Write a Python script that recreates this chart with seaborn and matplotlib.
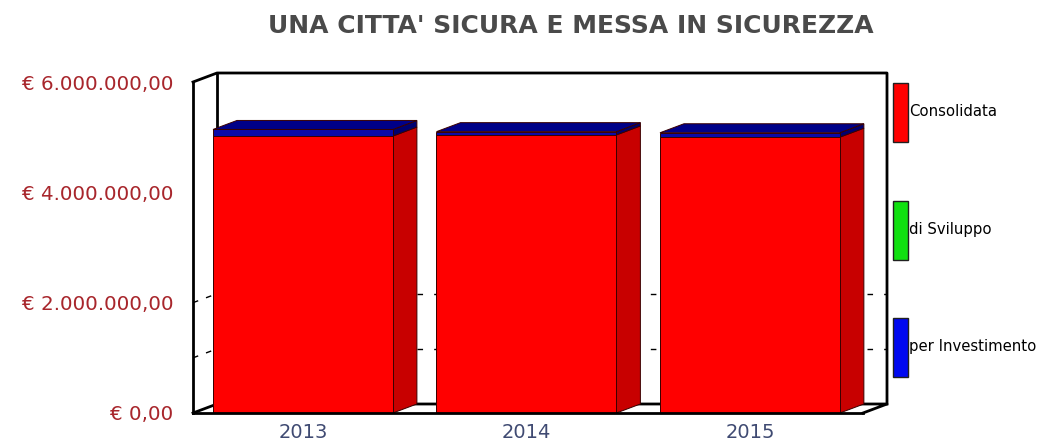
import matplotlib
matplotlib.use("Agg")
import matplotlib.pyplot as plt
from matplotlib.patches import Patch, Polygon
import pandas as pd
import seaborn as sns

# ---- data -------------------------------------------------------------
years = ["2013", "2014", "2015"]
consolidata = [5020000, 5040000, 5000000]
sviluppo = [0, 0, 0]
investimento = [120000, 60000, 80000]
series_names = ["Consolidata", "di Sviluppo", "per Investimento"]
y_ticks = [0, 2000000, 4000000, 6000000]
y_tick_labels = ["€ 0,00", "€ 2.000.000,00", "€ 4.000.000,00", "€ 6.000.000,00"]
grid_values = [1000000, 2000000]
title = "UNA CITTA' SICURA E MESSA IN SICUREZZA"

# ---- style ------------------------------------------------------------
sns.set_theme(style="white")
plt.rcParams["font.family"] = ["DejaVu Sans"]

RED, RED_SIDE = "#ff0000", "#c80000"
GREEN = "#10e010"
BLUE_FRONT, BLUE_TOP, BLUE_SIDE = "#0a0aa8", "#000088", "#000070"
LEGEND_BLUE = "#0008f0"
EDGE = "#3a0000"

W, H = 1046, 446
fig = plt.figure(figsize=(W / 100, H / 100), dpi=100)
fig.patch.set_facecolor("white")

# front plane of the plotting box, in pixels
px_left, px_right, px_bottom, px_top = 193, 863, 413, 82
ax = fig.add_axes([px_left / W, 1 - px_bottom / H,
                   (px_right - px_left) / W, (px_bottom - px_top) / H])
ax.set_facecolor("white")

df = pd.DataFrame({
    "anno": years,
    "Consolidata": consolidata,
    "di Sviluppo": sviluppo,
    "per Investimento": investimento,
})
df["lvl1"] = df["Consolidata"]
df["lvl2"] = df["lvl1"] + df["di Sviluppo"]
df["lvl3"] = df["lvl2"] + df["per Investimento"]

bar_w = 0.805
common = dict(data=df, x="anno", width=bar_w, saturation=1, errorbar=None,
              ax=ax, edgecolor=EDGE, linewidth=0.7, zorder=3)
sns.barplot(y="lvl3", color=BLUE_FRONT, **common)
sns.barplot(y="lvl2", color=GREEN, **common)
sns.barplot(y="lvl1", color=RED, **common)

xlim = (-0.492, 2.506)
ylim = (0, 6000000)
ax.set_xlim(*xlim)
ax.set_ylim(*ylim)

# depth of the pseudo-3D extrusion converted to data units
pitch_px = (px_right - px_left) / (xlim[1] - xlim[0])
ddx = 24 / pitch_px
ddy = 9 * (ylim[1] - ylim[0]) / (px_bottom - px_top)


def face(points, color, z=2.5):
    ax.add_patch(Polygon(points, closed=True, facecolor=color, edgecolor=EDGE,
                         linewidth=0.7, zorder=z, clip_on=False))


# side and top faces of every stacked column
for i in range(len(years)):
    xl, xr = i - bar_w / 2, i + bar_w / 2
    r, t = df["lvl2"][i], df["lvl3"][i]
    face([(xr, 0), (xr, r), (xr + ddx, r + ddy), (xr + ddx, ddy)], RED_SIDE)
    if t > r:
        face([(xr, r), (xr, t), (xr + ddx, t + ddy), (xr + ddx, r + ddy)], BLUE_SIDE)
    top_col = BLUE_TOP if t > r else RED_SIDE
    face([(xl, t), (xr, t), (xr + ddx, t + ddy), (xl + ddx, t + ddy)], top_col)

# back wall grid lines and their trace on the left wall
for g in grid_values:
    ax.plot([xlim[0] + ddx, xlim[1] + ddx], [g + ddy, g + ddy], color="black",
            lw=1, dashes=(4, 8), zorder=1, clip_on=False)
    ax.plot([xlim[0], xlim[0] + ddx], [g, g + ddy], color="black",
            lw=1, dashes=(4, 6), zorder=1, clip_on=False)

# box outline
box_kw = dict(color="black", lw=2, zorder=2, clip_on=False, solid_capstyle="projecting")
x0, x1, y1 = xlim[0], xlim[1], ylim[1]
ax.plot([x0, x0 + ddx, x1 + ddx, x1 + ddx], [y1, y1 + ddy, y1 + ddy, ddy], **box_kw)
ax.plot([x0 + ddx, x0 + ddx], [ddy, y1 + ddy], **box_kw)
ax.plot([x0, x0 + ddx, x1 + ddx, x1], [0, ddy, ddy, 0], **box_kw)

for s in ["top", "right"]:
    ax.spines[s].set_visible(False)
for s in ["left", "bottom"]:
    ax.spines[s].set_color("black")
    ax.spines[s].set_linewidth(2)
    ax.spines[s].set_zorder(4)

ax.set_yticks(y_ticks)
ax.set_yticklabels(y_tick_labels)
ax.tick_params(axis="y", length=0, pad=14, labelsize=14.3, labelcolor="#a8262c")
ax.tick_params(axis="x", length=0, pad=7, labelsize=14, labelcolor="#3f4a72")
ax.set_xlabel("")
ax.set_ylabel("")
ax.grid(False)

fig.text(571 / W, 1 - 26 / H, title, ha="center", va="center",
         fontsize=18, fontweight="bold", color="#4a4a4a")

handles = [Patch(facecolor=c, edgecolor="#202020", linewidth=1)
           for c in [RED, GREEN, LEGEND_BLUE]]
leg = fig.legend(handles, series_names, loc="upper left",
                 bbox_to_anchor=(893 / W, 1 - 83 / H), frameon=False,
                 fontsize=10.7, handlelength=1.0, handleheight=5.73,
                 labelspacing=3.95, handletextpad=0.1, borderpad=0,
                 borderaxespad=0)
for txt in leg.get_texts():
    txt.set_color("black")

fig.savefig("out.png", dpi=100, facecolor="white")
